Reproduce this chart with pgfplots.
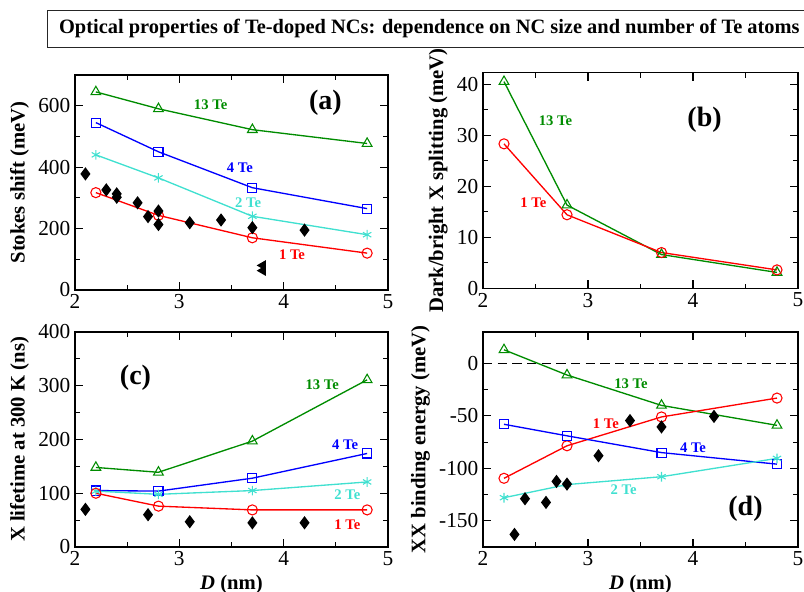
\documentclass[border=0pt]{standalone}
\usepackage{fontspec}
\setmainfont{Liberation Serif}
\usepackage{pgfplots}
\pgfplotsset{compat=1.18}
\definecolor{ggreen}{RGB}{0,140,0}
\definecolor{tq}{RGB}{64,224,208}
\pgfplotsset{
  panel/.style={
    scale only axis, anchor=south west,
    xmin=2, xmax=5, xtick={2,3,4,5}, minor x tick num=1,
    minor y tick num=1,
    tick align=inside, major tick length=6pt, minor tick length=3.5pt,
    tick style={black, line width=0.8pt},
    axis line style={line width=0.8pt},
    ticklabel style={font=\fontsize{16}{18}\selectfont},
    /pgf/number format/assume math mode=true,
    label style={font=\bfseries\fontsize{15.5}{18}\selectfont},
    every axis plot/.append style={line width=1pt, mark options={line width=0.8pt, solid}},
    clip=false,
  },
  s13/.style={color=ggreen, mark=triangle, mark size=4.2pt},
  s4/.style={color=blue, mark=square, mark size=3.4pt},
  s2/.style={color=tq, mark=asterisk, mark size=3.6pt},
  s1/.style={color=red, mark=o, mark size=3.8pt},
  exp/.style={only marks, black, mark=diamond*, mark size=4.2pt, mark options={fill=black}},
}
\tikzset{
  lab/.style={font=\bfseries\fontsize{11}{13}\selectfont},
  big/.style={font=\bfseries\fontsize{21}{24}\selectfont},
}
\begin{document}
\begin{tikzpicture}
\useasboundingbox (0,0) rectangle (603pt,444pt);
\draw[line width=0.8pt, black!85] (35.5pt,408.5pt) rectangle (612pt,436pt);
\node[font=\bfseries\fontsize{15.3}{18}\selectfont, anchor=center] at (322pt,422.5pt) {Optical properties of Te-doped NCs: dependence on NC size and number of Te atoms};

% (a)
\begin{axis}[panel, at={(56.25pt,226.5pt)}, width=234.75pt, height=161.25pt,
  ymin=0, ymax=700, ytick={0,200,400,600},
  ylabel={Stokes shift (meV)}]
\addplot[s13] coordinates {(2.2,645) (2.8,590) (3.7,522) (4.8,477)};
\addplot[s4] coordinates {(2.2,545) (2.8,450) (3.7,333) (4.8,265)};
\addplot[s2] coordinates {(2.2,440) (2.8,365) (3.7,240) (4.8,180)};
\addplot[s1] coordinates {(2.2,317) (2.8,243) (3.7,170) (4.8,120)};
\addplot[exp] coordinates {(2.1,378) (2.3,326) (2.4,313) (2.4,302) (2.6,284) (2.7,239) (2.8,257) (2.8,213) (3.1,219) (3.4,228) (3.7,203) (4.2,195)};
\addplot[only marks, black, mark=triangle*, mark size=3.6pt, mark options={rotate=90, fill=black}] coordinates {(3.8,80) (3.8,63)};
\node[lab, text=ggreen] at (axis cs:3.3,603) {13 Te};
\node[lab, text=blue] at (axis cs:3.58,397) {4 Te};
\node[lab, text=tq] at (axis cs:3.66,283) {2 Te};
\node[lab, text=red] at (axis cs:4.08,114) {1 Te};
\node[big] at (axis cs:4.4,609) {(a)};
\end{axis}

% (b)
\begin{axis}[panel, at={(362.25pt,227.8pt)}, width=236.25pt, height=161.5pt,
  ymin=0, ymax=42.2, ytick={0,10,20,30,40},
  ylabel={Dark/bright X splitting (meV)}]
\addplot[s13] coordinates {(2.2,40.5) (2.8,16.3) (3.7,6.6) (4.8,3.1)};
\addplot[s1] coordinates {(2.2,28.3) (2.8,14.4) (3.7,7.0) (4.8,3.6)};
\node[lab, text=ggreen] at (axis cs:2.69,32.8) {13 Te};
\node[lab, text=red] at (axis cs:2.48,16.7) {1 Te};
\node[big] at (axis cs:4.11,33) {(b)};
\end{axis}

% (c)
\begin{axis}[panel, at={(56.25pt,33.75pt)}, width=234.75pt, height=161.25pt,
  ymin=0, ymax=400, ytick={0,100,200,300,400},
  ylabel={X lifetime at 300 K (ns)},
  xlabel={\textit{D} (nm)}]
\addplot[s13] coordinates {(2.2,148) (2.8,139) (3.7,197) (4.8,311)};
\addplot[s4] coordinates {(2.2,105) (2.8,104) (3.7,128) (4.8,174)};
\addplot[s2] coordinates {(2.2,104) (2.8,98) (3.7,105) (4.8,121)};
\addplot[s1] coordinates {(2.2,100) (2.8,76) (3.7,69) (4.8,69)};
\addplot[exp] coordinates {(2.1,70) (2.7,60) (3.1,47) (3.7,45) (4.2,45)};
\node[lab, text=ggreen] at (axis cs:4.37,301) {13 Te};
\node[lab, text=blue] at (axis cs:4.59,190) {4 Te};
\node[lab, text=tq] at (axis cs:4.61,97) {2 Te};
\node[lab, text=red] at (axis cs:4.61,41) {1 Te};
\node[big] at (axis cs:2.58,314) {(c)};
\end{axis}

% (d)
\begin{axis}[panel, at={(362.25pt,33.75pt)}, width=236.25pt, height=161.25pt,
  ymin=-175, ymax=30, ytick={-150,-100,-50,0},
  ylabel={XX binding energy (meV)},
  xlabel={\textit{D} (nm)}]
\addplot[black, line width=1pt, mark=none, dash pattern=on 7pt off 4pt] coordinates {(2,0) (5,0)};
\addplot[s13] coordinates {(2.2,13) (2.8,-11) (3.7,-40) (4.8,-59)};
\addplot[s1] coordinates {(2.2,-109.5) (2.8,-78.5) (3.7,-51) (4.8,-33)};
\addplot[s4] coordinates {(2.2,-58) (2.8,-69) (3.7,-85) (4.8,-96)};
\addplot[s2] coordinates {(2.2,-128) (2.8,-115.5) (3.7,-108) (4.8,-90.5)};
\addplot[exp] coordinates {(2.3,-163) (2.4,-129) (2.6,-132.5) (2.7,-112.5) (2.8,-115) (3.1,-88) (3.4,-54.5) (3.7,-60.5) (4.2,-50.5)};
\node[lab, text=ggreen] at (axis cs:3.41,-19) {13 Te};
\node[lab, text=red] at (axis cs:3.17,-57) {1 Te};
\node[lab, text=blue] at (axis cs:4.0,-80) {4 Te};
\node[lab, text=tq] at (axis cs:3.34,-120) {2 Te};
\node[big] at (axis cs:4.5,-139) {(d)};
\end{axis}
\end{tikzpicture}
\end{document}
